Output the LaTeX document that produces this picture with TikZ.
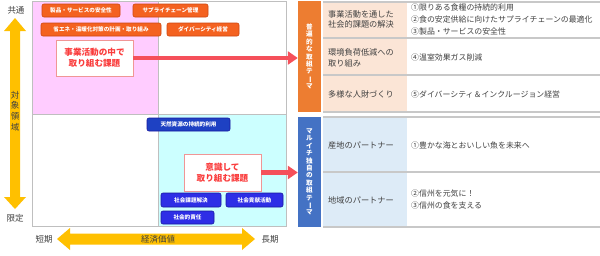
\documentclass[tikz,border=0pt]{standalone}
\usepackage{fontspec}
\setmainfont{Noto Sans CJK JP}
\usepackage{graphicx}
\usetikzlibrary{arrows.meta}
\definecolor{pinkbg}{RGB}{255,204,255}
\definecolor{cyanbg}{RGB}{204,255,255}
\definecolor{framegray}{RGB}{191,191,191}
\definecolor{yarrow}{RGB}{255,192,0}
\definecolor{ofill}{RGB}{244,98,32}
\definecolor{odraw}{RGB}{205,70,15}
\definecolor{bfill}{RGB}{46,46,230}
\definecolor{bfilldark}{RGB}{30,65,195}
\definecolor{bdraw}{RGB}{25,25,160}
\definecolor{redtxt}{RGB}{250,60,60}
\definecolor{redline}{RGB}{245,80,90}
\definecolor{pinkborder}{RGB}{240,150,150}
\definecolor{obar}{RGB}{237,125,49}
\definecolor{bbar}{RGB}{68,114,196}
\definecolor{peach}{RGB}{251,229,214}
\definecolor{lblue}{RGB}{221,235,247}
\definecolor{tline}{RGB}{200,200,200}
\definecolor{txt}{RGB}{64,64,64}
\newcommand{\vbar}{\rotatebox[origin=c]{-90}{ー}}
\tikzset{
  frame/.style={draw=framegray, line width=0.8pt},
  obox/.style={fill=ofill, draw=odraw, line width=0.6pt, rounded corners=2pt, text=white, inner sep=0pt,
    font=\fontsize{5.6}{6}\selectfont\bfseries},
  bbox/.style={fill=bfill, draw=bdraw, line width=0.6pt, rounded corners=2pt, text=white, inner sep=0pt,
    font=\fontsize{5.6}{6}\selectfont\bfseries},
  wbox/.style={fill=white, draw=pinkborder, line width=0.8pt, text=redtxt, align=center, inner sep=0pt,
    font=\fontsize{8.6}{11}\selectfont\bfseries},
  sidebar/.style={text=white, align=center, inner sep=0pt, minimum width=23pt,
    font=\fontsize{6.6}{7.4}\selectfont\bfseries},
  tline/.style={draw=tline, line width=1.5pt},
  ttext/.style={anchor=west, align=left, text=txt, inner sep=0pt, font=\fontsize{8.2}{10.5}\selectfont},
  ctext/.style={anchor=west, align=left, text=txt, inner sep=0pt, font=\fontsize{7.9}{11.6}\selectfont},
  rarrow/.style={draw=redline, line width=4.2pt, -{Triangle[length=10pt,width=13pt]}},
  axlabel/.style={text=txt, inner sep=0pt, font=\fontsize{8.5}{11}\selectfont}
}
\begin{document}
\begin{tikzpicture}[x=1pt,y=-1pt]
\useasboundingbox (0,0) rectangle (600,255);
\fill[white] (0,0) rectangle (600,255);
% quadrant backgrounds
\fill[pinkbg] (32,1) rectangle (158,114);
\fill[cyanbg] (158,114) rectangle (286,226);
\draw[frame] (32,1) rectangle (286,226);
\draw[frame] (158,1) -- (158,226);
\draw[frame] (32,114) -- (286,114);
% vertical axis arrow
\fill[yarrow] (15,18) -- (26,31) -- (20,31) -- (20,197) -- (26,197) -- (15,209) -- (4,197) -- (10,197) -- (10,31) -- (4,31) -- cycle;
\node[axlabel] (kyotsu) at (16,10) {共通};
\node[axlabel] (gentei) at (15,218) {限定};
\node[axlabel, align=center, font=\fontsize{8.5}{10.8}\selectfont] (taisho) at (15,111) {対\\象\\領\\域};
% horizontal axis arrow
\fill[yarrow] (57,239) -- (70,228) -- (70,233.5) -- (242,233.5) -- (242,228) -- (255,239) -- (242,250) -- (242,244.5) -- (70,244.5) -- (70,250) -- cycle;
\node[axlabel] (tanki) at (44,239) {短期};
\node[axlabel] (keizai) at (158,239) {経済価値};
\node[axlabel] (choki) at (270,239) {長期};
% orange boxes
\node[obox, minimum width=78pt, minimum height=13pt] (o1) at (81,10.5) {製品・サービスの安全性};
\node[obox, minimum width=75pt, minimum height=13pt] (o2) at (170.5,10.5) {サプライチェーン管理};
\node[obox, minimum width=120pt, minimum height=13pt] (o3) at (101,29.5) {省エネ・温暖化対策の計画・取り組み};
\node[obox, minimum width=72pt, minimum height=13pt] (o4) at (203,29.5) {ダイバーシティ経営};
% blue boxes
\node[bbox, fill=bfilldark, minimum width=83pt, minimum height=13pt] (b1) at (188.5,124.5) {天然資源の持続的利用};
\node[bbox, minimum width=60pt, minimum height=14pt] (b2) at (191,200) {社会課題解決};
\node[bbox, minimum width=57pt, minimum height=14pt] (b3) at (254.5,200) {社会貢献活動};
\node[bbox, minimum width=53pt, minimum height=13pt] (b4) at (187.5,217.5) {社会的責任};
% white boxes
\node[wbox, minimum width=77pt, minimum height=36pt] (w1) at (94.5,58) {事業活動の中で\\取り組む課題};
\node[wbox, minimum width=77pt, minimum height=37pt] (w2) at (222.5,172.5) {意識して\\取り組む課題};
% side bars
\node[sidebar, fill=obar, minimum height=111pt] (ob) at (309.5,56.5) {普\\遍\\的\\な\\取\\組\\テ\\\vbar\\マ};
\node[sidebar, fill=bbar, minimum height=110pt] (bb) at (309.5,172) {マ\\ル\\イ\\チ\\独\\自\\の\\取\\組\\テ\\\vbar\\マ};
% arrows
\draw[rarrow] (w1.east) -- (w1.east -| ob.west);
\draw[rarrow] (w2.east) -- (w2.east -| bb.west);
% table backgrounds
\fill[peach] (323,2) rectangle (407,112);
\fill[lblue] (323,117) rectangle (407,227);
\draw[tline] (323,2) -- (600,2);
\draw[tline] (323,38) -- (600,38);
\draw[tline] (323,75) -- (600,75);
\draw[tline] (323,112) -- (600,112);
\draw[tline] (323,117) -- (600,117);
\draw[tline] (323,172) -- (600,172);
\draw[tline] (323,227) -- (600,227);
% table texts
\node[ttext] (r1a) at (328,19.5) {事業活動を通した\\社会的課題の解決};
\node[ctext] (r1b) at (411,19.5) {①限りある食糧の持続的利用\\②食の安定供給に向けたサプライチェーンの最適化\\③製品・サービスの安全性};
\node[ttext] (r2a) at (328,58) {環境負荷低減への\\取り組み};
\node[ctext] (r2b) at (411,57) {④温室効果ガス削減};
\node[ttext] (r3a) at (328,94) {多様な人財づくり};
\node[ctext] (r3b) at (411,94) {⑤ダイバーシティ＆インクルージョン経営};
\node[ttext] (s1a) at (328,145) {産地のパートナー};
\node[ctext] (s1b) at (411,145) {①豊かな海とおいしい魚を未来へ};
\node[ttext] (s2a) at (328,200) {地域のパートナー};
\node[ctext, font=\fontsize{7.9}{12.7}\selectfont] (s2b) at (411,199.5) {②信州を元気に！\\③信州の食を支える};
\end{tikzpicture}
\end{document}
